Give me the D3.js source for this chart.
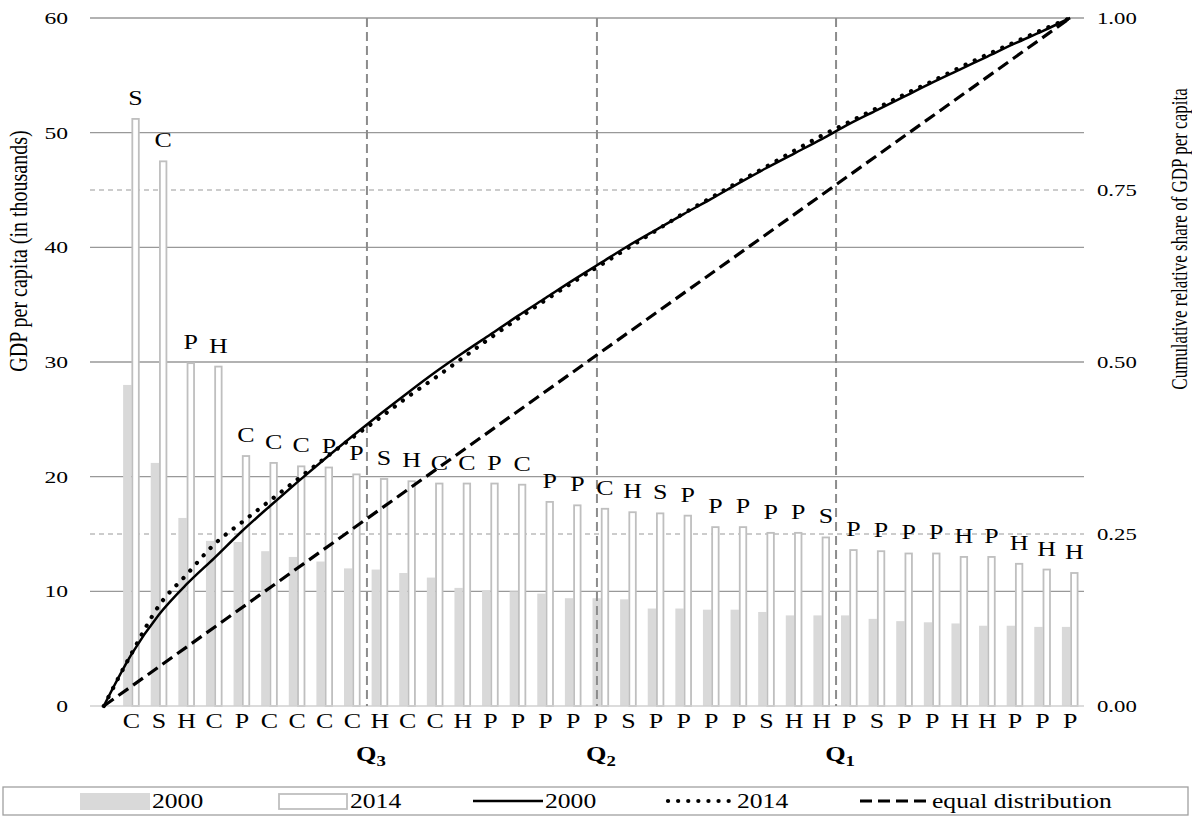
<!DOCTYPE html>
<html>
<head>
<meta charset="utf-8">
<script src="https://cdn.jsdelivr.net/npm/d3@7"></script>
<style>
  body { margin: 0; background: #fff; }
  text { font-family: "Liberation Serif", "Times New Roman", serif; fill: #000; }
</style>
</head>
<body>
<script>
var svgWidth = 1192;
var svgHeight = 817;

var plot = { left: 90, right: 1084, top: 18, bottom: 706 };

// country groups, ordered by GDP per capita (2000 order at the bottom, 2014 order on top)
var labels2000 = ["C","S","H","C","P","C","C","C","C","H","C","C","H","P","P","P","P","P","S","P","P","P","P","S","H","H","P","S","P","P","H","H","P","P","P"];
var labels2014 = ["S","C","P","H","C","C","C","P","P","S","H","C","C","P","C","P","P","C","H","S","P","P","P","P","P","S","P","P","P","P","H","P","H","H","H"];

// GDP per capita (in thousands)
var gdp2000 = [28.0, 21.2, 16.4, 14.4, 14.3, 13.5, 13.0, 12.6, 12.0, 11.9, 11.6, 11.2, 10.3, 10.1, 10.0, 9.8, 9.4, 9.4, 9.3, 8.5, 8.5, 8.4, 8.4, 8.2, 7.9, 7.9, 7.9, 7.6, 7.4, 7.3, 7.2, 7.0, 7.0, 6.9, 6.9];
var gdp2014 = [51.2, 47.5, 29.9, 29.6, 21.8, 21.2, 20.9, 20.8, 20.2, 19.8, 19.6, 19.4, 19.4, 19.4, 19.3, 17.8, 17.5, 17.2, 16.9, 16.8, 16.6, 15.6, 15.6, 15.1, 15.1, 14.7, 13.6, 13.5, 13.3, 13.3, 13.0, 13.0, 12.4, 11.9, 11.6];

// cumulative relative share (point 0 = origin)
var cum2000 = [0, 0.075, 0.133, 0.177, 0.215, 0.254, 0.290, 0.325, 0.359, 0.392, 0.424, 0.455, 0.485, 0.513, 0.540, 0.567, 0.593, 0.619, 0.644, 0.669, 0.692, 0.715, 0.737, 0.760, 0.782, 0.803, 0.824, 0.846, 0.866, 0.886, 0.906, 0.925, 0.944, 0.963, 0.981, 1.0];
var cum2014 = [0, 0.076, 0.146, 0.191, 0.235, 0.267, 0.298, 0.329, 0.360, 0.390, 0.419, 0.449, 0.477, 0.506, 0.535, 0.563, 0.590, 0.616, 0.641, 0.666, 0.691, 0.716, 0.739, 0.762, 0.784, 0.807, 0.829, 0.849, 0.869, 0.889, 0.908, 0.928, 0.947, 0.965, 0.983, 1.0];
var equalLine = [[0, 0], [35, 1]];

// quartile cut positions (in country index units)
var quartiles = [{ name: "3", pos: 9.53 }, { name: "2", pos: 17.86 }, { name: "1", pos: 26.52 }];

var leftTicks = [0, 10, 20, 30, 40, 50, 60];
var rightTicks = [0, 0.25, 0.5, 0.75, 1];

var svg = d3.select("body").append("svg")
    .attr("width", svgWidth)
    .attr("height", svgHeight);

// the original picture is a bit stretched sideways, so the text is too
var stretch = 1.18;

// x: point 0 is the origin of the curves, countries are 1..35
var x = d3.scaleLinear().domain([-0.5, 35.5]).range([plot.left, plot.right]);
var yL = d3.scaleLinear().domain([0, 60]).range([plot.bottom, plot.top]);
var yR = d3.scaleLinear().domain([0, 1]).range([plot.bottom, plot.top]);

var barW = 8.3;

// gridlines
svg.append("g").selectAll("line")
    .data([10, 20, 30, 40, 50, 60])
    .enter().append("line")
    .attr("x1", plot.left).attr("x2", plot.right)
    .attr("y1", d => yL(d)).attr("y2", d => yL(d))
    .attr("stroke", "#999").attr("stroke-width", 1.3);

svg.append("g").selectAll("line")
    .data([0.25, 0.75])
    .enter().append("line")
    .attr("x1", plot.left).attr("x2", plot.right)
    .attr("y1", d => yR(d)).attr("y2", d => yR(d))
    .attr("stroke", "#999").attr("stroke-width", 1)
    .attr("stroke-dasharray", "5,4");

// bars 2000 (filled)
svg.append("g").selectAll("rect")
    .data(gdp2000)
    .enter().append("rect")
    .attr("x", (d, i) => x(i + 1) - barW)
    .attr("y", d => yL(d))
    .attr("width", barW)
    .attr("height", d => yL(0) - yL(d))
    .attr("fill", "#d9d9d9");

// bars 2014 (outline)
svg.append("g").selectAll("rect")
    .data(gdp2014)
    .enter().append("rect")
    .attr("x", (d, i) => x(i + 1) + 0.9)
    .attr("y", d => yL(d))
    .attr("width", barW - 1.8)
    .attr("height", d => yL(0) - yL(d))
    .attr("fill", "#fff")
    .attr("stroke", "#bfbfbf")
    .attr("stroke-width", 1.8);

// x axis line
svg.append("line")
    .attr("x1", plot.left).attr("x2", plot.right)
    .attr("y1", plot.bottom).attr("y2", plot.bottom)
    .attr("stroke", "#d0d0d0").attr("stroke-width", 1.5);

// quartile lines
svg.append("g").selectAll("line")
    .data(quartiles)
    .enter().append("line")
    .attr("x1", d => x(d.pos)).attr("x2", d => x(d.pos))
    .attr("y1", plot.top).attr("y2", plot.bottom)
    .attr("stroke", "#8c8c8c").attr("stroke-width", 2)
    .attr("stroke-dasharray", "9,5");

// labels over 2014 bars
svg.append("g").selectAll("text")
    .data(gdp2014)
    .enter().append("text")
    .attr("transform", (d, i) => `translate(${x(i + 1) + barW / 2},${yL(d) - 14}) scale(${stretch},1)`)
    .attr("text-anchor", "middle")
    .style("font-size", "22px")
    .text((d, i) => labels2014[i]);

// category labels (2000)
svg.append("g").selectAll("text")
    .data(labels2000)
    .enter().append("text")
    .attr("transform", (d, i) => `translate(${x(i + 1)},728) scale(${stretch},1)`)
    .attr("text-anchor", "middle")
    .style("font-size", "22px")
    .text(d => d);

// quartile labels
var qt = svg.append("g").selectAll("text")
    .data(quartiles)
    .enter().append("text")
    .attr("transform", d => `translate(${x(d.pos) + 4},761) scale(1.25,1)`)
    .attr("text-anchor", "middle")
    .style("font-size", "21px")
    .style("font-weight", "bold");
qt.append("tspan").text("Q");
qt.append("tspan").attr("dy", 5).style("font-size", "15px").text(d => d.name);

// curves
var line = d3.line()
    .x((d, i) => x(i))
    .y(d => yR(d))
    .curve(d3.curveMonotoneX);

svg.append("path")
    .datum(equalLine)
    .attr("d", d3.line().x(d => x(d[0])).y(d => yR(d[1])))
    .attr("fill", "none")
    .attr("stroke", "#000").attr("stroke-width", 3.2)
    .attr("stroke-dasharray", "12,6");

svg.append("path")
    .datum(cum2000)
    .attr("d", line)
    .attr("fill", "none")
    .attr("stroke", "#000").attr("stroke-width", 2.5);

svg.append("path")
    .datum(cum2014)
    .attr("d", line)
    .attr("fill", "none")
    .attr("stroke", "#000").attr("stroke-width", 4.2)
    .attr("stroke-linecap", "round")
    .attr("stroke-dasharray", "0.1,10");

// left axis labels
svg.append("g").selectAll("text")
    .data(leftTicks)
    .enter().append("text")
    .attr("transform", d => `translate(68,${yL(d) + 6}) scale(1.35,1)`)
    .attr("text-anchor", "end")
    .style("font-size", "17.5px")
    .text(d => d);

// right axis labels
svg.append("g").selectAll("text")
    .data(rightTicks)
    .enter().append("text")
    .attr("transform", d => `translate(1097,${yR(d) + 6}) scale(1.3,1)`)
    .style("font-size", "17.5px")
    .text(d => d.toFixed(2));

svg.append("text")
    .attr("transform", "translate(27,251) scale(1.3,1) rotate(-90)")
    .attr("text-anchor", "middle")
    .style("font-size", "20px")
    .text("GDP per capita (in thousands)");

svg.append("text")
    .attr("transform", "translate(1187,239) scale(1.35,1) rotate(-90)")
    .attr("text-anchor", "middle")
    .style("font-size", "17px")
    .text("Cumulative relative share of GDP per capita");

// legend
var legend = svg.append("g");
legend.append("rect")
    .attr("x", 3).attr("y", 787).attr("width", 1185).attr("height", 28)
    .attr("fill", "none").attr("stroke", "#a0a0a0").attr("stroke-width", 1.3);

var legendItems = [
    { type: "fill", x: 80, label: "2000" },
    { type: "outline", x: 278, label: "2014" },
    { type: "solid", x: 473, label: "2000" },
    { type: "dotted", x: 665, label: "2014" },
    { type: "dashed", x: 860, label: "equal distribution" }
];

legendItems.forEach(function(it) {
    if (it.type === "fill") {
        legend.append("rect").attr("x", it.x).attr("y", 793).attr("width", 70).attr("height", 17).attr("fill", "#d9d9d9");
    } else if (it.type === "outline") {
        legend.append("rect").attr("x", it.x + 1).attr("y", 794).attr("width", 68).attr("height", 15)
            .attr("fill", "#fff").attr("stroke", "#bfbfbf").attr("stroke-width", 1.8);
    } else {
        var l = legend.append("line").attr("x1", it.x).attr("x2", it.x + 70).attr("y1", 801).attr("y2", 801).attr("stroke", "#000");
        if (it.type === "solid") l.attr("stroke-width", 2.5);
        if (it.type === "dotted") l.attr("stroke-width", 4.2).attr("stroke-linecap", "round").attr("stroke-dasharray", "0.1,10").attr("x1", it.x + 3);
        if (it.type === "dashed") l.attr("stroke-width", 3.2).attr("stroke-dasharray", "12,6");
    }
    legend.append("text")
        .attr("transform", `translate(${it.x + 72},808) scale(1.22,1)`)
        .style("font-size", "21px")
        .text(it.label);
});
</script>
</body>
</html>
